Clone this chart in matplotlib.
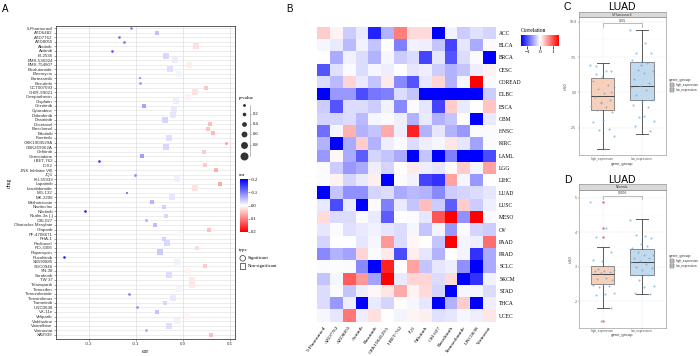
import numpy as np
import matplotlib
matplotlib.use("Agg")
import matplotlib.pyplot as plt
from matplotlib.colors import LinearSegmentedColormap, Normalize
from matplotlib.cm import ScalarMappable

# ---------------- Panel A data ----------------
drugs = ["5-Fluorouracil", "AZD6482", "AZD7762", "AZD8055", "Afatinib", "Axitinib", "BI-2536",
         "BMS-536924", "BMS-754807", "Bicalutamide", "Bleomycin", "Bortezomib", "Bosutinib",
         "CCT007093", "CHIR-99021", "Camptothecin", "Cisplatin", "Crizotinib", "Cytarabine",
         "Dabrafenib", "Dasatinib", "Docetaxel", "Elesclomol", "Erlotinib", "Foretinib",
         "GSK1904529A", "GSK269962A", "Gefitinib", "Gemcitabine", "I-BET-762", "IOX2",
         "JNK Inhibitor VIII", "JQ1", "KU-55933", "Lapatinib", "Lenalidomide", "MG-132",
         "MK-2206", "Methotrexate", "Navitoclax", "Nilotinib", "Nutlin-3a (-)", "OSI-027",
         "Obatoclax Mesylate", "Olaparib", "PF-4708671", "PHA-1", "Paclitaxel", "RO-3306",
         "Rapamycin", "Ruxolitinib", "SB590885", "SGC0946", "SN-38", "Sorafenib", "TW 37",
         "Talazoparib", "Tamoxifen", "Temozolomide", "Temsirolimus", "Trametinib", "UNC0638",
         "VX-11e", "Veliparib", "Vinblastine", "Vinorelbine", "Vorinostat", "XAV939"]
cor = [-0.110, -0.056, -0.136, -0.125, 0.029, -0.151, -0.036, -0.016, 0.013, -0.027, -0.008,
       -0.091, -0.092, 0.050, 0.026, 0.012, -0.015, -0.082, -0.019, -0.022, -0.038, 0.058,
       0.054, 0.065, -0.029, 0.092, -0.035, 0.046, -0.087, -0.178, 0.047, 0.070, -0.101,
       -0.013, 0.079, 0.026, -0.118, -0.023, -0.066, -0.041, -0.209, -0.035, -0.078, -0.059,
       0.055, -0.006, -0.040, -0.034, 0.031, -0.048, -0.253, -0.013, 0.047, 0.010, -0.030,
       0.020, 0.020, -0.009, -0.115, -0.020, -0.037, -0.098, -0.054, 0.008, -0.012, -0.029,
       -0.078, 0.060]
pval = [0.03, 0.30, 0.01, 0.02, 0.55, 0.01, 0.60, 0.75, 0.80, 0.60, 0.90, 0.12, 0.04, 0.35,
        0.60, 0.80, 0.80, 0.35, 0.75, 0.70, 0.55, 0.25, 0.30, 0.25, 0.55, 0.04, 0.55, 0.35,
        0.15, 0.01, 0.35, 0.20, 0.04, 0.80, 0.20, 0.60, 0.12, 0.65, 0.25, 0.45, 0.005, 0.50,
        0.04, 0.30, 0.30, 0.90, 0.50, 0.55, 0.50, 0.60, 0.002, 0.80, 0.35, 0.85, 0.70, 0.75,
        0.70, 0.90, 0.02, 0.70, 0.50, 0.03, 0.35, 0.90, 0.85, 0.70, 0.04, 0.30]
significant = ["5-Fluorouracil", "AZD7762", "AZD8055", "Axitinib", "Bosutinib", "GSK1904529A",
               "I-BET-762", "JQ1", "Nilotinib", "OSI-027", "Ruxolitinib", "Temozolomide",
               "UNC0638", "Vorinostat"]
size_breaks = [0.05, 0.2, 0.4, 0.6, 0.8, 1.0]
size_labels = ["", "0.2", "0.4", "0.6", "0.8", ""]
cor_ticks = [-0.2, -0.1, 0.0, 0.1, 0.2]
a_xticks = [-0.2, -0.1, 0.0, 0.1]

# ---------------- Panel B data ----------------
cancers = ["ACC", "BLCA", "BRCA", "CESC", "COREAD", "DLBC", "ESCA", "GBM", "HNSC", "KIRC",
           "LAML", "LGG", "LIHC", "LUAD", "LUSC", "MESO", "OV", "PAAD", "PRAD", "SCLC",
           "SKCM", "STAD", "THCA", "UCEC"]
heat_drugs = ["5-Fluorouracil", "AZD7762", "AZD8055", "Axitinib", "Bosutinib", "GSK1904529A",
              "I-BET-762", "JQ1", "Nilotinib", "OSI-027", "Ruxolitinib", "Temozolomide",
              "UNC0638", "Vorinostat"]
heat_vals = [
    [0.3, 0.08, -0.3, -0.12, -1.3, -0.45, 0.75, 0.22, 0.22, -1.5, -0.08, -0.3, -0.18, -0.25],
    [-0.05, -0.12, -0.4, -0.08, -0.35, 0.0, -0.75, -0.08, -0.1, -0.35, -1.1, -0.15, -0.5, -0.03],
    [0.0, -0.5, -0.08, -0.2, -0.45, -0.05, -0.3, -0.2, -1.1, -0.15, -1.0, -0.2, -0.03, -1.5],
    [-1.0, -0.18, -0.03, -0.2, -0.05, -0.1, 0.0, -0.15, -0.1, -0.3, -0.45, -0.35, -0.1, 0.08],
    [-0.2, -0.4, 0.25, -0.12, -0.35, 0.12, -0.7, -1.0, -0.15, 0.25, -0.45, -0.05, 1.5, -0.03],
    [-1.5, -0.6, -0.6, -1.05, -0.8, -0.75, -0.2, -0.35, -1.5, -1.5, -1.5, -1.5, -1.5, -0.3],
    [-0.3, -1.0, -0.2, -0.2, -0.3, -0.08, -0.7, -0.03, -0.15, -1.1, 0.3, -0.12, 0.0, 0.35],
    [-0.25, -0.25, -0.2, -0.4, -0.05, -0.03, -0.1, -0.45, -0.12, -0.45, -0.35, 0.0, -1.5, -0.12],
    [-0.85, -0.05, 0.45, -0.45, -0.35, 0.5, -0.1, 1.3, -0.45, -0.15, -0.45, -0.6, -0.03, -0.03],
    [-0.45, -1.5, -0.5, 0.3, -0.45, -0.1, -0.03, -0.2, -0.1, -0.05, 0.15, -0.15, -0.55, -0.03],
    [-0.6, 0.05, -0.5, -0.95, -0.25, -0.35, -0.5, -1.5, -0.35, -1.5, -0.75, -1.5, -1.5, -1.05],
    [-0.03, -0.3, -0.6, -0.5, -0.1, -0.25, 0.0, 0.12, -0.1, -0.15, 0.03, 0.3, -0.05, 0.55],
    [-0.03, 0.08, -0.25, -0.12, 0.1, -1.5, -0.03, -0.08, -1.1, -1.2, 0.55, -0.05, -0.6, 0.0],
    [-1.5, -0.35, -0.65, -0.65, -0.25, -0.2, -0.5, -0.4, -0.45, -0.7, -0.3, -0.25, -0.2, -0.15],
    [-0.12, -1.05, -0.12, -1.5, -0.03, -0.75, -0.12, -0.35, 0.38, -0.3, -0.95, 0.3, -0.3, -0.1],
    [0.2, -0.2, -0.2, -0.03, -0.12, -0.95, 0.0, -0.02, -0.15, 1.0, 1.5, -0.65, 1.5, -0.03],
    [-0.15, -0.03, -0.18, -0.12, -0.08, -0.15, -0.2, -0.05, -0.35, -0.06, -0.6, -0.03, -0.25, -0.3],
    [-0.25, 0.0, 0.0, -0.15, -0.05, 0.6, -0.2, 0.05, 0.0, -0.35, 1.5, -0.06, -0.1, 0.85],
    [-0.7, -0.45, -0.55, 0.25, -0.03, 0.12, -1.05, 0.1, -0.15, -0.45, 0.0, -0.06, -1.2, -0.5],
    [-0.03, -0.02, -0.03, -0.7, -1.5, 1.3, 0.0, 0.55, -0.35, -0.15, -0.1, -0.65, -1.5, -0.5],
    [-0.35, -0.05, 0.95, 0.6, -0.55, 1.5, -0.12, 0.25, 0.25, -0.2, 0.22, -1.5, -1.2, -0.08],
    [-0.2, -0.03, -0.35, -0.1, 0.05, 0.15, 0.5, 0.08, 0.22, -0.25, -1.5, -0.05, -0.05, -0.2],
    [-0.2, -0.6, -0.1, -1.5, -0.12, -0.25, 0.02, -0.05, -0.15, -1.5, -0.45, 0.3, -1.5, -0.1],
    [-0.05, -0.15, 0.8, -0.1, 0.18, 0.0, -0.06, 0.06, 0.1, -0.18, -0.15, -0.05, -0.1, 0.15],
]
heat_ticks = [-1, 0, 1]

# ---------------- Panels C / D data ----------------
groups = ["high_expression", "low_expression"]
c_drug = "5-Fluorouracil"
c_stats = {  # q1, median, q3, lower whisker, upper whisker
    "high_expression": (3.75, 4.76, 6.03, 0.98, 7.10),
    "low_expression": (4.43, 5.45, 7.15, 2.03, 9.43),
}
c_points_high = [6.91, 6.53, 6.30, 6.51, 6.06, 5.78, 5.52, 5.21, 5.35, 4.93, 4.69, 4.45, 4.22,
                 4.03, 3.94, 3.75, 3.58, 3.04, 2.92, 2.38, 2.34, 1.90, 0.98, 6.85, 5.05, 4.35]
c_points_low = [9.41, 8.47, 7.76, 7.81, 7.17, 7.29, 7.05, 6.58, 6.51, 6.34, 5.94, 5.64, 5.45,
                5.35, 5.16, 4.81, 4.45, 4.33, 4.10, 3.98, 3.23, 2.97, 3.32, 2.61, 2.26, 6.9]
c_pvalue = "0.55"
c_yticks = [2.5, 5.0, 7.5, 10.0]

d_drug = "Nilotinib"
d_stats = {
    "high_expression": (2.49, 2.79, 3.01, 1.79, 3.57),
    "low_expression": (2.75, 3.12, 3.50, 2.21, 4.38),
}
d_outliers_high = [4.88, 4.12, 3.86, 1.42]
d_points_high = [4.88, 4.12, 3.86, 3.43, 3.16, 3.18, 3.02, 2.92, 2.90, 2.88, 2.86, 2.85, 2.82,
                 2.80, 2.66, 2.63, 2.60, 2.51, 2.48, 2.44, 2.41, 2.25, 2.21, 2.17, 1.80, 1.42]
d_points_low = [4.35, 3.88, 3.93, 3.82, 3.67, 3.55, 3.60, 3.43, 3.35, 3.33, 3.26, 3.24, 3.16,
                3.12, 3.09, 2.99, 2.95, 2.90, 2.75, 2.75, 2.61, 2.44, 2.41, 2.25, 2.22]
d_pvalue = "0.006"
d_yticks = [2, 3, 4, 5]

# ---------------- figure ----------------
W, H = 700, 356
fig = plt.figure(figsize=(7, 3.56), dpi=100)
SERIF = "Liberation Serif"
SANS = "Liberation Sans"


def rect(l, t, r, b):
    return [l / W, 1 - b / H, (r - l) / W, (b - t) / H]


bwr = LinearSegmentedColormap.from_list("bwr2", ["#0000FF", "#FFFFFF", "#FF0000"])

# ---------------- Panel A ----------------
axA = fig.add_axes(rect(56, 26, 235, 339))
norm_a = Normalize(-0.2, 0.2)
ypos = np.arange(len(drugs))
for i in ypos:
    axA.axhline(i, color="#e6e6e6", lw=0.5, zorder=0)
for xv in a_xticks:
    axA.axvline(xv, color="#dddddd", lw=0.5, zorder=0)


def diam_px(p):
    return 2.6 + 5.4 * p


for i, (d, c, p) in enumerate(zip(drugs, cor, pval)):
    col = bwr(norm_a(np.clip(c, -0.2, 0.2)))
    if d in significant:
        s = (diam_px(p) * 0.72) ** 2
        axA.scatter([c], [i], s=s, marker="o", color=col, alpha=0.85, lw=0, zorder=3)
    else:
        s = (diam_px(p) * 0.9 * 0.72) ** 2
        axA.scatter([c], [i], s=s, marker="s", color=col, alpha=0.85, lw=0, zorder=3)

axA.set_xlim(-0.27, 0.111)
axA.set_ylim(len(drugs) - 1 + 0.9, -0.45)
axA.set_yticks(ypos)
axA.set_yticklabels(drugs, fontsize=3.2, family=SANS, color="#333333")
axA.set_xticks(a_xticks)
axA.set_xticklabels(["-0.2", "-0.1", "0.0", "0.1"], fontsize=3.2, family=SANS, color="#333333")
axA.tick_params(axis="both", length=1.5, width=0.4, pad=0.8, color="#555555")
for sp in axA.spines.values():
    sp.set_color("#444444")
    sp.set_linewidth(0.6)
axA.set_xlabel("cor", fontsize=4, family=SERIF, labelpad=2)
axA.set_ylabel("drug", fontsize=4, family=SERIF, labelpad=2)

# ---------------- Panel B ----------------
axB = fig.add_axes(rect(317.3, 26.7, 495.7, 321.7))
hv = np.array(heat_vals)
axB.pcolormesh(hv, cmap=bwr, vmin=-1.5, vmax=1.5)
axB.set_xlim(0, len(heat_drugs))
axB.set_ylim(len(cancers), 0)
axB.set_yticks(np.arange(len(cancers)) + 0.5)
axB.set_yticklabels(cancers, fontsize=4, family=SERIF)
axB.yaxis.tick_right()
axB.set_xticks(np.arange(len(heat_drugs)) + 0.5)
axB.set_xticklabels(heat_drugs, fontsize=3.8, family=SERIF, rotation=55, ha="right",
                    rotation_mode="anchor")
axB.tick_params(length=0, pad=2.5)
for sp in axB.spines.values():
    sp.set_visible(False)

caxB = fig.add_axes(rect(521, 34.7, 559, 45.7))
cbB = fig.colorbar(ScalarMappable(norm=Normalize(-1.5, 1.5), cmap=bwr), cax=caxB,
                   orientation="horizontal", ticks=heat_ticks)
cbB.outline.set_visible(False)
caxB.tick_params(length=2, width=0.5, labelsize=3.8, pad=1)
for lab in caxB.get_xticklabels():
    lab.set_family(SERIF)

# ---------------- Panels C / D ----------------


def box_panel(l, t, r, b, strip_t, stats, pts_high, pts_low, outliers, ylim, yticks, ylabels,
              pvalue, bracket_y, tip_y, text_y, strip_label):
    ax = fig.add_axes(rect(l, t, r, b))
    ax.set_facecolor("white")
    ax.set_xlim(0.4, 2.6)
    ax.set_ylim(*ylim)
    ax.set_yticks(yticks)
    ax.set_yticklabels(ylabels, fontsize=2.3, color="#555555")
    ax.set_xticks([1, 2])
    ax.set_xticklabels([])
    ax.tick_params(length=1, width=0.3, pad=0.8, color="#555555")
    ax.grid(True, color="#ececec", lw=0.35)
    minor = [(yticks[k] + yticks[k + 1]) / 2 for k in range(len(yticks) - 1)]
    for mv in minor:
        ax.axhline(mv, color="#f4f4f4", lw=0.25, zorder=0)
    ax.set_axisbelow(True)
    for sp in ax.spines.values():
        sp.set_color("#888888")
        sp.set_linewidth(0.4)
    fills = ["#f8cbb3", "#bcd6ea"]
    bxstats = []
    for g in groups:
        q1, med, q3, lo, hi = stats[g]
        bxstats.append(dict(q1=q1, med=med, q3=q3, whislo=lo, whishi=hi, fliers=[]))
    bp = ax.bxp(bxstats, positions=[1, 2], widths=0.6, patch_artist=True, showfliers=False,
                capwidths=0.3, manage_ticks=False)
    for patch, fc in zip(bp["boxes"], fills):
        patch.set_facecolor(fc)
        patch.set_edgecolor("#555555")
        patch.set_linewidth(0.5)
        patch.set_alpha(0.9)
    for ln in bp["medians"]:
        ln.set_color("#444444")
        ln.set_linewidth(0.7)
    for ln in bp["whiskers"] + bp["caps"]:
        ln.set_color("#444444")
        ln.set_linewidth(0.6)
    if outliers:
        ax.scatter([1] * len(outliers), outliers, s=3, color="#e0708a", lw=0, zorder=4)
    for pos, pts in ((1, pts_high), (2, pts_low)):
        n = len(pts)
        offs = np.array([((k * 0.618034) % 1.0 - 0.5) * 0.62 for k in range(n)])
        ax.scatter(pos + offs, pts, s=2.2, color="#62b2e6", alpha=0.75, lw=0, zorder=5)
    ax.plot([1, 1, 2, 2], [tip_y, bracket_y, bracket_y, tip_y], color="#888888", lw=0.4)
    ax.text(1.5, text_y, pvalue, ha="center", va="center", fontsize=2.3, color="#333333")
    ax.set_ylabel("ic50", fontsize=2.6, labelpad=1, color="#333333")
    # strip
    st = fig.add_axes(rect(l, strip_t, r, t))
    st.set_facecolor("#d9d9d9")
    st.set_xticks([])
    st.set_yticks([])
    for sp in st.spines.values():
        sp.set_color("#888888")
        sp.set_linewidth(0.4)
    st.text(0.5, 0.5, strip_label, ha="center", va="center", fontsize=2.2,
            transform=st.transAxes, color="#333333")
    return ax


axC = box_panel(579, 16.7, 665.7, 155, 12.3, c_stats, c_points_high, c_points_low, [],
                (0.57, 10.35), c_yticks, ["2.5", "5.0", "7.5", "10.0"], c_pvalue,
                9.89, 9.65, 10.08, c_drug)
axD = box_panel(579, 189.7, 665.7, 327.7, 184.3, d_stats, d_points_high, d_points_low,
                d_outliers_high, (1.23, 5.23), d_yticks, ["2", "3", "4", "5"], d_pvalue,
                5.04, 4.95, 5.13, d_drug)

# ---------------- overlay: letters, legends ----------------
ov = fig.add_axes([0, 0, 1, 1], zorder=10)
ov.set_xlim(0, W)
ov.set_ylim(H, 0)
ov.axis("off")
ov.patch.set_alpha(0)

ov.text(2, 9, "A", fontsize=7, family=SANS, va="center")
ov.text(286, 9, "B", fontsize=7, family=SANS, va="center")
ov.text(563, 6.5, "C", fontsize=7.5, family=SANS, va="center")
ov.text(564, 180, "D", fontsize=7.5, family=SANS, va="center")
ov.text(622, 6.5, "LUAD", fontsize=7.5, family=SANS, va="center", ha="center")
ov.text(622, 180, "LUAD", fontsize=7.5, family=SANS, va="center", ha="center")

# A legends
ov.text(239, 98, "p-value", fontsize=3.6, family=SERIF, va="center")
leg_y = [104.7, 114.3, 124.3, 134.3, 145.3, 155.7]
for yv, p, lab in zip(leg_y, size_breaks, size_labels):
    ov.scatter([244.3], [yv], s=(diam_px(p) * 0.72) ** 2, color="#333333", lw=0)
    if lab:
        ov.text(252.5, yv, lab, fontsize=3.3, family=SERIF, va="center")
ov.plot([249.5, 249.5], [leg_y[0], leg_y[-1]], color="#888888", lw=0.4)
for yv in leg_y[1:5]:
    ov.plot([249.5, 251], [yv, yv], color="#888888", lw=0.4)

ov.text(239, 174.5, "cor", fontsize=3.6, family=SERIF, va="center")
caxA = fig.add_axes(rect(240, 179.3, 248, 231.7), zorder=11)
cbA = fig.colorbar(ScalarMappable(norm=norm_a, cmap=bwr), cax=caxA, ticks=cor_ticks)
caxA.invert_yaxis()
cbA.outline.set_visible(False)
caxA.tick_params(length=1.5, width=0.4, labelsize=3.3, pad=0.8, color="#555555")
caxA.set_yticklabels(["-0.2", "-0.1", "0.0", "0.1", "0.2"])
for lab in caxA.get_yticklabels():
    lab.set_family(SERIF)

ov.text(239, 250, "type", fontsize=3.6, family=SERIF, va="center")
ov.scatter([242.7], [258.3], s=16, marker="o", facecolor="none", edgecolor="#333333", lw=0.5)
ov.scatter([242.7], [266], s=16, marker="s", facecolor="none", edgecolor="#333333", lw=0.5)
ov.text(248, 258.3, "Significant", fontsize=3.3, family=SERIF, va="center")
ov.text(248, 266, "Non-significant", fontsize=3.3, family=SERIF, va="center")

# B colorbar title
ov.text(521, 31, "Correlation", fontsize=4, family=SERIF, va="center")

# C/D legends and x labels
for (tick_y, xlab_y, leg_t) in ((159, 163.5, 80), (331, 335, 256)):
    ov.text(602.6, tick_y, groups[0], fontsize=2.1, ha="center", va="center", color="#555555")
    ov.text(642.0, tick_y, groups[1], fontsize=2.1, ha="center", va="center", color="#555555")
    ov.text(622, xlab_y, "gene_group", fontsize=2.7, ha="center", va="center", color="#333333")
    ov.text(669, leg_t, "gene_group", fontsize=2.7, va="center", color="#333333")
    for k, fc in enumerate(["#f8cbb3", "#bcd6ea"]):
        yy = leg_t + 5 + k * 5
        ov.add_patch(plt.Rectangle((669.5, yy - 1.8), 4, 3.6, facecolor=fc, edgecolor="#555555",
                                   lw=0.3))
        ov.plot([669.5, 673.5], [yy, yy], color="#555555", lw=0.3)
        ov.text(675.5, yy, groups[k], fontsize=2.1, va="center", color="#333333")

fig.savefig("out.png", dpi=100)
